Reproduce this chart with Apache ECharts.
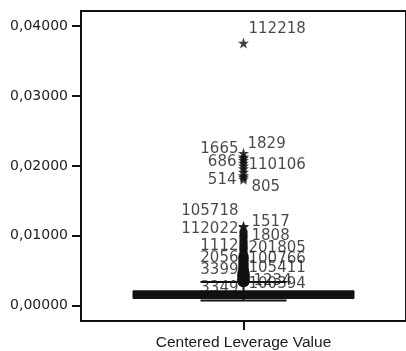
<!DOCTYPE html>
<html>
<head>
<meta charset="utf-8">
<script src="https://cdn.jsdelivr.net/npm/echarts@6/dist/echarts.min.js"></script>
<style>
  html, body { margin: 0; padding: 0; background: #fff; }
  #chart { width: 406px; height: 351px; }
</style>
</head>
<body>
<div id="chart"></div>
<script>
// ---- data ----
const categories = ['Centered Leverage Value'];
// lower whisker, Q1, median, Q3, upper whisker
const boxStats = [0.00075, 0.00103, 0.00160, 0.00212, 0.00340];
const yTicks = [0, 0.01, 0.02, 0.03, 0.04];

// extreme cases (drawn as stars) with case numbers
const extremeIds = ['112218', '1829', '1665', '686', '110106', '514', '805', '105718', '112022'];
const extremeValues = [0.03757, 0.0218, 0.0213, 0.0204, 0.0200, 0.0186, 0.0181, 0.01135, 0.01126];
const unlabelledExtremes = [0.0208, 0.0196, 0.0191, 0.0184, 0.0211];

// outlying cases (drawn as circles) with case numbers
const outlierIds = ['1517', '1808', '1112', '201805', '2056', '100766', '3399', '105411', '1234', '100394', '3349'];
const outlierValues = [0.0106, 0.0097, 0.0085, 0.0082, 0.0068, 0.0067, 0.0051, 0.0054, 0.0044, 0.0036, 0.0035];
const unlabelledOutliers = [0.0104, 0.0101, 0.0099, 0.0094, 0.0091, 0.0089, 0.0087, 0.0083, 0.0080, 0.0078,
  0.0075, 0.0073, 0.0071, 0.0070, 0.0065, 0.0063, 0.0062, 0.0059, 0.0058, 0.0056, 0.0053, 0.0052,
  0.0049, 0.0047, 0.0046, 0.0043, 0.0042, 0.0041, 0.0039, 0.0038, 0.0037, 0.0036, 0.0035];

// ---- label placement (side, gap from the case's centre, vertical shift) ----
const labelPlacement = {
  '112218': ['right', 5, -14],
  '1829': ['right', 4, -9],
  '1665': ['left', 5, -8],
  '686': ['left', 7, -1],
  '110106': ['right', 5, -1],
  '514': ['left', 7, 4],
  '805': ['right', 8, 8],
  '105718': ['left', 5, -15],
  '112022': ['left', 5, 2],
  '1517': ['right', 8, -9],
  '1808': ['right', 8, -2],
  '1112': ['left', 5, 0],
  '201805': ['right', 5, 0],
  '2056': ['left', 5, 0],
  '100766': ['right', 5, 0],
  '3399': ['left', 5, 0],
  '105411': ['right', 5, 0],
  '1234': ['right', 10, 6],
  '100394': ['right', 5, 4],
  '3349': ['left', 5, 7]
};

const FONT = "'Liberation Sans', Arial, sans-serif";
const NUM_FONT = "'DejaVu Sans', 'Liberation Sans', sans-serif";
const INK = '#111';

const STAR_SIZE = 11;
function circleSize(v) {
  return v < 0.0048 ? 12 : v < 0.0072 ? 10 : 8;
}

function labelled(ids, values, sizeOf) {
  return ids.map((id, i) => {
    const p = labelPlacement[id];
    return {
      value: [0, values[i]],
      name: id,
      label: {
        show: true,
        position: p[0],
        distance: p[1] - sizeOf(values[i]) / 2,
        offset: [0, p[2]],
        formatter: id,
        color: '#1a1a1a',
        fontSize: 15,
        fontFamily: NUM_FONT
      }
    };
  });
}

const chart = echarts.init(document.getElementById('chart'), null, { renderer: 'canvas' });

chart.setOption({
  animation: false,
  backgroundColor: '#fff',
  grid: {
    left: 81, top: 11, right: -3, bottom: 30,
    show: true, borderColor: INK, borderWidth: 2, backgroundColor: 'transparent'
  },
  xAxis: {
    type: 'category',
    data: categories,
    axisLine: { show: true, onZero: false, lineStyle: { color: INK, width: 2 } },
    axisTick: { show: true, alignWithLabel: true, length: 9, lineStyle: { color: INK, width: 2 } },
    axisLabel: { color: '#1a1a1a', fontSize: 15.5, fontFamily: FONT, margin: 14 },
    splitLine: { show: false }
  },
  yAxis: {
    type: 'value',
    min: -0.00219,
    max: 0.04215,
    axisLine: { show: true, lineStyle: { color: INK, width: 2 } },
    axisTick: { show: true, length: 9, customValues: yTicks, lineStyle: { color: INK, width: 2 } },
    axisLabel: {
      customValues: yTicks,
      color: '#222', fontSize: 14, fontFamily: NUM_FONT, margin: 13,
      formatter: v => v.toFixed(5).replace('.', ',')
    },
    splitLine: { show: false }
  },
  series: [
    {
      // extreme cases
      type: 'scatter',
      z: 4,
      symbol: 'path://M0,-10 L2.35,-3.24 L9.51,-3.09 L3.8,1.24 L5.88,8.09 L0,4 L-5.88,8.09 L-3.8,1.24 L-9.51,-3.09 L-2.35,-3.24 Z',
      symbolSize: STAR_SIZE,
      itemStyle: { color: INK },
      data: labelled(extremeIds, extremeValues, () => STAR_SIZE).concat(unlabelledExtremes.map(v => [0, v]))
    },
    {
      // outlying cases
      type: 'scatter',
      z: 4,
      symbol: 'circle',
      symbolSize: val => circleSize(val[1]),
      itemStyle: { color: INK },
      data: labelled(outlierIds, outlierValues, circleSize).concat(unlabelledOutliers.map(v => [0, v]))
    },
    {
      // box and whiskers
      type: 'custom',
      z: 5,
      data: [[0].concat(boxStats)],
      encode: { x: 0, y: [1, 2, 3, 4, 5] },
      renderItem: function (params, api) {
        const cat = api.value(0);
        const c = i => api.coord([cat, api.value(i)]);
        const lo = c(1), q1 = c(2), med = c(3), q3 = c(4), hi = c(5);
        const band = api.size([1, 0])[0];
        const bw = band * 0.68;
        const capW = 86;
        const x = lo[0];
        const ls = { stroke: INK, lineWidth: 2 };
        return {
          type: 'group',
          children: [
            { type: 'line', shape: { x1: x, y1: hi[1], x2: x, y2: q3[1] }, style: ls },
            { type: 'line', shape: { x1: x, y1: lo[1], x2: x, y2: q1[1] }, style: ls },
            { type: 'line', shape: { x1: x - capW / 2, y1: hi[1], x2: x + capW / 2, y2: hi[1] }, style: ls },
            { type: 'line', shape: { x1: x - capW / 2, y1: lo[1], x2: x + capW / 2, y2: lo[1] }, style: ls },
            {
              type: 'rect',
              shape: { x: x - bw / 2, y: q3[1], width: bw, height: q1[1] - q3[1] },
              style: { fill: INK, stroke: INK, lineWidth: 1 }
            },
            { type: 'line', shape: { x1: x - bw / 2, y1: med[1], x2: x + bw / 2, y2: med[1] }, style: ls }
          ]
        };
      }
    }
  ]
});
</script>
</body>
</html>
